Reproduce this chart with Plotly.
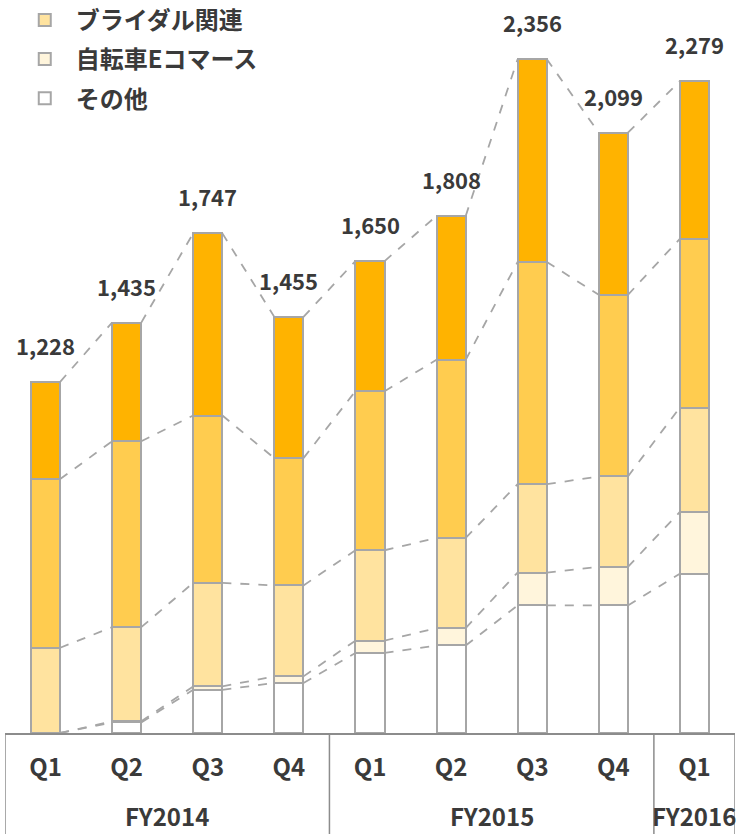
import plotly.graph_objects as go

fiscal_years = ["FY2014"] * 4 + ["FY2015"] * 4 + ["FY2016"]
quarters = ["Q1", "Q2", "Q3", "Q4", "Q1", "Q2", "Q3", "Q4", "Q1"]

# stacked segments, bottom to top
other = [0, 37, 151, 175, 280, 306, 446, 446, 557]          # その他
bicycle_ec = [0, 4, 12, 23, 43, 61, 115, 135, 216]          # 自転車Eコマース
bridal_a = [298, 329, 362, 318, 316, 315, 309, 316, 365]    # ブライダル関連
bridal_b = [590, 650, 585, 445, 556, 623, 777, 635, 590]
bridal_c = [340, 415, 637, 494, 455, 503, 709, 567, 551]
totals = [1228, 1435, 1747, 1455, 1650, 1808, 2356, 2099, 2279]

series = [
    ("その他", other, "#FFFFFF", True),
    ("自転車Eコマース", bicycle_ec, "#FFF5DC", True),
    ("ブライダル関連", bridal_a, "#FFE39F", True),
    ("ブライダル関連 2", bridal_b, "#FFCC4F", False),
    ("ブライダル関連 3", bridal_c, "#FFB300", False),
]

FONT = "Noto Sans CJK JP"
TXT = "#3A3A3A"
EDGE = "#A6A6A6"
AXC = "#8C8C8C"
BAR_W = 0.36
H, T, B = 834, 0, 101
PLOT_H = H - T - B

n = len(totals)
idx = list(range(n))

fig = go.Figure()
for i, (name, vals, color, show) in enumerate(series):
    fig.add_trace(go.Bar(
        x=idx, y=vals, name=name,
        marker=dict(color=color, line=dict(color=EDGE, width=2)),
        showlegend=show, legendgroup=f"g{i}", legendrank=100 - i,
        width=BAR_W, hoverinfo="skip",
    ))

# dashed connectors between stacked boundaries
cum = [0] * n
for name, vals, color, show in series:
    cum = [c + v for c, v in zip(cum, vals)]
    xs, ys = [], []
    for i in range(n - 1):
        xs += [i + BAR_W / 2, i + 1 - BAR_W / 2, None]
        ys += [cum[i], cum[i + 1], None]
    fig.add_trace(go.Scatter(
        x=xs, y=ys, mode="lines", showlegend=False,
        line=dict(color=EDGE, width=1.8, dash="dash"), hoverinfo="skip",
    ))

for i, t in enumerate(totals):
    fig.add_annotation(
        x=i, y=t, xref="x", yref="y", text=f"{t:,}", showarrow=False,
        yanchor="bottom", yshift=19,
        font=dict(family=FONT, size=22, color=TXT, weight="bold"),
    )

# fiscal-year group labels and dividers
groups = []
for i, fy in enumerate(fiscal_years):
    if not groups or groups[-1][0] != fy:
        groups.append([fy, i, i])
    else:
        groups[-1][2] = i
bounds = sorted({g[1] - 0.5 for g in groups} | {g[2] + 0.5 for g in groups})
for fy, a, b in groups:
    fig.add_annotation(
        x=(a + b) / 2, y=0, xref="x", yref="paper", text=fy, showarrow=False,
        yanchor="middle", yshift=-82,
        font=dict(family=FONT, size=24, color=TXT, weight="bold"),
    )
for xb in bounds:
    fig.add_shape(type="line", xref="x", yref="paper", x0=xb, x1=xb,
                  y0=0, y1=-(B + 5) / PLOT_H, line=dict(color=AXC, width=1.5))

fig.update_layout(
    width=736, height=H,
    margin=dict(l=5, r=1, t=T, b=B, autoexpand=False),
    barmode="stack",
    plot_bgcolor="white", paper_bgcolor="white",
    font=dict(family=FONT, color=TXT),
    legend=dict(
        x=0.012, y=1.003, xanchor="left", yanchor="top",
        traceorder="grouped", tracegroupgap=5, itemwidth=52,
        font=dict(family=FONT, size=24, color=TXT, weight="bold"),
        bgcolor="rgba(0,0,0,0)",
    ),
    xaxis=dict(
        showline=True, linecolor=AXC, linewidth=1.5, automargin=False,
        tickmode="array", tickvals=idx, ticktext=quarters,
        ticks="outside", ticklen=12, tickcolor="rgba(0,0,0,0)",
        tickfont=dict(family=FONT, size=24, color=TXT, weight="bold"),
        showgrid=False, zeroline=False, range=[-0.5, n - 0.5],
    ),
    yaxis=dict(range=[0, PLOT_H / 0.286], visible=False, showgrid=False,
               zeroline=False, automargin=False),
)

fig.write_html(
    "out.html",
    config={"displayModeBar": False},
    post_script="document.body.style.margin='0';document.body.style.padding='0';",
)
